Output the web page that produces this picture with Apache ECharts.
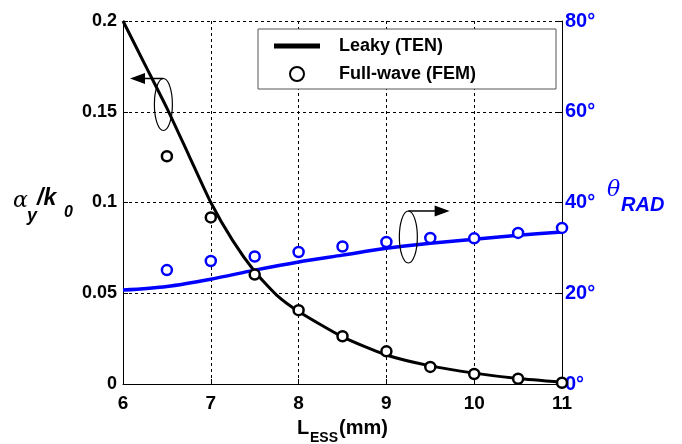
<!DOCTYPE html>
<html><head><meta charset="utf-8">
<script src="https://cdn.jsdelivr.net/npm/echarts@6/dist/echarts.min.js"></script>
<style>html,body{margin:0;padding:0;background:#fff}#c{width:682px;height:444px}</style>
</head><body><div id="c"></div>
<script>
// ---- data ----
const xTicks = [6, 7, 8, 9, 10, 11];
const tenX = [6, 6.25, 6.5, 6.75, 7, 7.25, 7.5, 7.75, 8, 8.5, 9, 9.5, 10, 10.5, 11];
const tenAlpha = [0.2, 0.176, 0.152, 0.126, 0.100, 0.079, 0.062, 0.049, 0.040, 0.026, 0.016, 0.010, 0.006, 0.003, 0.001];
const femX = [6.5, 7, 7.5, 8, 8.5, 9, 9.5, 10, 10.5, 11];
const femAlpha = [0.1255, 0.0918, 0.0603, 0.0407, 0.0263, 0.018, 0.0094, 0.0055, 0.0029, 0.0007];
const thetaX = [6, 6.5, 7, 7.5, 8, 8.5, 9, 9.5, 10, 10.5, 11];
const tenTheta = [20.7, 21.5, 23.1, 25.1, 26.9, 28.4, 29.9, 31.0, 31.9, 32.8, 33.5];
const femTheta = [25.1, 27.1, 28.1, 29.1, 30.3, 31.3, 32.2, 32.1, 33.3, 34.4];
const leftTicks = [0, 0.05, 0.1, 0.15, 0.2];
const rightTicks = [0, 20, 40, 60, 80];

const zip = (a, b) => a.map((v, i) => [v, b[i]]);
const FONT = '"Liberation Sans", Arial, sans-serif';
const BLUE = '#0000ff';

const chart = echarts.init(document.getElementById('c'));
const grid = { left: 123, right: 120, top: 21, bottom: 60, show: false };
const dashed = { show: true, lineStyle: { color: '#000', type: [3, 3], width: 1 } };

chart.setOption({
  animation: false,
  backgroundColor: '#fff',
  grid: grid,
  legend: {
    orient: 'vertical', left: 258, top: 29,
    padding: [8, 80, 6, 16], itemGap: 10,
    itemWidth: 46, itemHeight: 14,
    borderColor: '#555', borderWidth: 1, backgroundColor: '#fff',
    textStyle: { fontFamily: FONT, fontWeight: 'bold', fontSize: 18, color: '#000', padding: [0, 0, 0, 14] },
    data: [
      { name: 'Leaky (TEN)', icon: 'path://M0,0L10,0L10,1.1L0,1.1Z' },
      { name: 'Full-wave (FEM)' }
    ]
  },
  xAxis: {
    type: 'value', min: 6, max: 11, interval: 1,
    axisLine: { show: true, onZero: false, lineStyle: { color: '#000', width: 1 } },
    axisTick: { show: true, inside: true, length: 5, lineStyle: { color: '#000' } },
    axisLabel: { color: '#000', fontFamily: FONT, fontWeight: 'bold', fontSize: 19, margin: 10,
      formatter: v => xTicks.includes(v) ? String(v) : '' },
    splitLine: dashed
  },
  yAxis: [
    {
      type: 'value', min: 0, max: 0.2, interval: 0.05, position: 'left',
      axisLine: { show: true, lineStyle: { color: '#000', width: 1 } },
      axisTick: { show: true, inside: true, length: 5, lineStyle: { color: '#000' } },
      axisLabel: { color: '#000', fontFamily: FONT, fontWeight: 'bold', fontSize: 18, margin: 6,
        formatter: v => leftTicks.some(t => Math.abs(t - v) < 1e-9) ? String(+v.toFixed(2)) : '' },
      splitLine: dashed
    },
    {
      type: 'value', min: 0, max: 80, interval: 20, position: 'right',
      axisLine: { show: true, lineStyle: { color: '#000', width: 1 } },
      axisTick: { show: true, inside: true, length: 5, lineStyle: { color: '#000' } },
      axisLabel: { color: BLUE, fontFamily: FONT, fontWeight: 'bold', fontSize: 20, margin: 3,
        formatter: v => rightTicks.includes(v) ? v + '°' : '' },
      splitLine: { show: false }
    }
  ],
  series: [
    { name: 'Leaky (TEN)', type: 'line', yAxisIndex: 0, data: zip(tenX, tenAlpha), smooth: 0.2,
      symbol: 'none', lineStyle: { color: '#000', width: 3 }, itemStyle: { color: '#000' }, z: 3 },
    { name: 'theta TEN', type: 'line', yAxisIndex: 1, data: zip(thetaX, tenTheta), smooth: 0.3,
      symbol: 'none', lineStyle: { color: BLUE, width: 3.5 }, itemStyle: { color: BLUE }, z: 3 },
    { name: 'Full-wave (FEM)', type: 'scatter', yAxisIndex: 0, data: zip(femX, femAlpha),
      symbol: 'circle', symbolSize: 10,
      itemStyle: { color: '#fff', borderColor: '#000', borderWidth: 2.5, opacity: 1 }, z: 4 },
    { name: 'theta FEM', type: 'scatter', yAxisIndex: 1, data: zip(femX, femTheta),
      symbol: 'circle', symbolSize: 10,
      itemStyle: { color: '#fff', borderColor: BLUE, borderWidth: 2.5, opacity: 1 }, z: 4 }
  ]
});

// ---- annotations (ellipses + arrows) placed via data coordinates ----
const p = (x, y) => chart.convertToPixel({ gridIndex: 0 }, [x, y]);
function marker(cx, cy, tipX, dir) {
  const c = p(cx, cy);
  const top = [c[0], c[1] - 26];
  const tip = p(tipX, 0)[0];
  const L = 15, H = 5.5;
  const head = dir < 0 ? [[tip, top[1]], [tip + L, top[1] - H], [tip + L, top[1] + H]]
                       : [[tip, top[1]], [tip - L, top[1] - H], [tip - L, top[1] + H]];
  const baseEnd = dir < 0 ? tip + L - 1 : tip - L + 1;
  return [
    { type: 'ellipse', shape: { cx: c[0], cy: c[1], rx: 9, ry: 26 }, style: { fill: null, stroke: '#000', lineWidth: 1.2 }, z: 10 },
    { type: 'line', shape: { x1: top[0], y1: top[1], x2: baseEnd, y2: top[1] }, style: { stroke: '#000', lineWidth: 1.5 }, z: 10 },
    { type: 'polygon', shape: { points: head }, style: { fill: '#000' }, z: 10 }
  ];
}
const ann = [].concat(marker(6.46, 0.154, 6.08, -1), marker(9.25, 0.081, 9.72, 1));

const T = (x, y, text, size, color, extra) => ({
  type: 'text', x: x, y: y, z: 20,
  style: Object.assign({ text: text, fontFamily: FONT, fontSize: size, fontWeight: 'bold', fill: color, textVerticalAlign: 'middle' }, extra || {})
});
const labels = [
  // left axis name  α_y / k_0
  T(13, 201, 'α', 22, '#000', { fontStyle: 'italic', fontWeight: 'normal', fontFamily: '"DejaVu Serif", serif' }),
  T(27, 216, 'y', 18, '#000', { fontStyle: 'italic' }),
  T(37, 199, '/k', 23, '#000', { fontStyle: 'italic' }),
  T(64, 213, '0', 16, '#000', { fontStyle: 'italic' }),
  // right axis name θ_RAD
  T(607, 190, 'θ', 22, BLUE, { fontStyle: 'italic', fontWeight: 'normal', fontFamily: '"DejaVu Serif", serif' }),
  T(621, 205, 'RAD', 20, BLUE, { fontStyle: 'italic' }),
  // x axis name L_ESS(mm)
  T(297, 428, 'L', 20, '#000'),
  T(310, 438, 'ESS', 14, '#000'),
  T(339, 428, '(mm)', 20, '#000')
];
chart.setOption({ graphic: { elements: ann.concat(labels) } });
</script>
</body></html>
